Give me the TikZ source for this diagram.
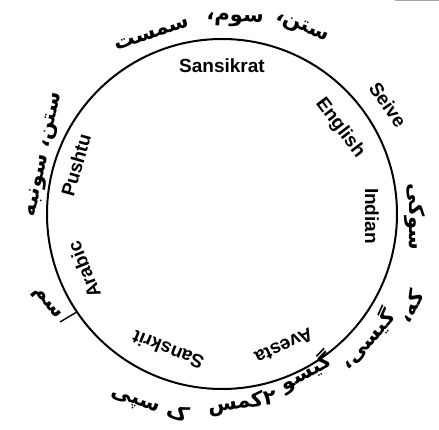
\documentclass[tikz,border=0pt]{standalone}
\usepackage{fontspec}
\setsansfont{Liberation Sans}
\newfontfamily\urdufont[Script=Arabic]{DejaVu Sans}
\TeXXeTstate=1
\usepackage{tikz}

\begin{document}
\begin{tikzpicture}[x=1pt, y=1pt,
    lang/.style={font=\sffamily\bfseries\fontsize{19}{19}\selectfont, inner sep=0pt},
    urdu/.style={font=\urdufont\bfseries\fontsize{21}{21}\selectfont, inner sep=0pt}]
    \useasboundingbox (0,0) rectangle (439,430);
    \draw[gray!70, line width=1.5pt] (395,430) -- (439,430);
    \node[circle, draw, line width=2pt, minimum size=350pt, inner sep=0pt] (ring) at (222,216) {};

    % names inside the ring
    \node[lang] (sansikrat) at (222,364) {Sansikrat};
    \node[lang, rotate=-53] (english) at (340,302) {English};
    \node[lang, rotate=-90] (indian) at (372,214) {Indian};
    \node[lang, rotate=-155] (avesta) at (284,84) {Avesta};
    \node[lang, rotate=158] (sanskrit) at (168,80) {Sanskrit};
    \node[lang, rotate=112] (arabic) at (84,160) {Arabic};
    \node[lang, rotate=74] (pushtu) at (76,265) {Pushtu};
    \node[lang, rotate=-55] (seive) at (388,325) {Seive};

    % urdu words outside
    \node[urdu, rotate=-22] (topR) at (302,402) {\beginR ستن،\endR};
    \node[urdu, rotate=-3] (topM) at (235,410) {\beginR سوم،\endR};
    \node[urdu, rotate=18] (topL) at (152,396) {\beginR سمست\endR};
    \node[urdu, rotate=78] (left) at (45,275) {\beginR ستن، سونبه\endR};
    \node[urdu, rotate=-90] (right) at (415,213) {\beginR سوکی\endR};
    \node[urdu, rotate=64] (botA) at (410,124) {\beginR که،\endR};
    \node[urdu, rotate=48] (botB) at (367,91) {\beginR گیسی،\endR};
    \node[urdu, rotate=28] (botC) at (306,58) {\beginR گیسو\endR};
    \node[urdu, rotate=7] (botD) at (242,27) {\beginR ٢کمس\endR};
    \node[urdu, rotate=-20] (botE) at (150,26) {\beginR ک سپی\endR};
    \node[urdu, rotate=-50] (sam) at (46,126) {\beginR سم\endR};
    \coordinate (samEnd) at (60,108);
    \draw[line width=1.4pt] (samEnd) -- (ring.214);
\end{tikzpicture}
\end{document}
